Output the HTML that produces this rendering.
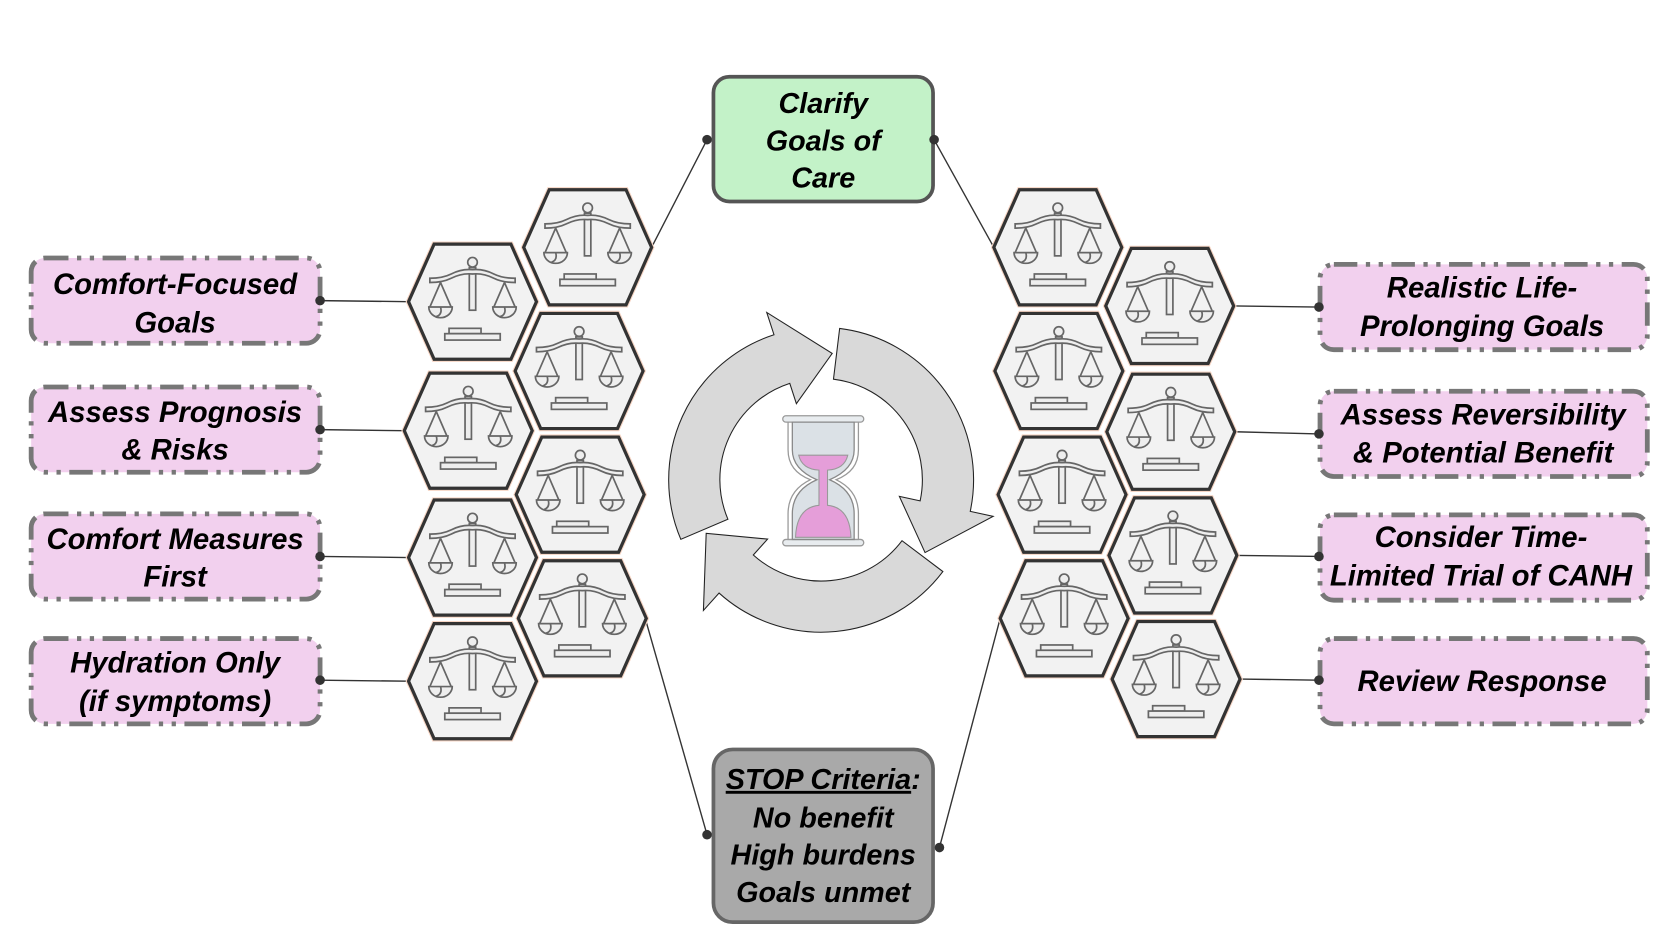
<!DOCTYPE html>
<html><head><meta charset="utf-8">
<style>
html,body{margin:0;padding:0;background:#fff;width:1671px;height:936px;overflow:hidden}
svg{display:block}
text{font-family:"Liberation Sans",sans-serif;font-weight:bold;font-style:italic;fill:#000}
</style></head><body>
<svg width="1671" height="936" viewBox="0 0 1567 878" xmlns="http://www.w3.org/2000/svg">
<defs>
<g id="scale" fill="none" stroke="#666" stroke-width="1.6">
  <circle cx="0" cy="-37" r="4.5" fill="#eee"/>
  <rect x="-3" y="-32" width="6" height="40" fill="#eee"/>
  <path d="M-40,-22 Q-28,-22 -20,-26 Q-10,-31 0,-30 Q10,-31 20,-26 Q28,-22 40,-22 L40,-18 Q28,-18 20,-22 Q10,-27 0,-26 Q-10,-27 -20,-22 Q-28,-18 -40,-18 Z" fill="#eee"/>
  <path d="M-30,-18 L-40,5 M-30,-18 L-20,5 M30,-18 L20,5 M30,-18 L40,5"/>
  <path d="M-41,5 L-19,5 A11,10 0 0 1 -41,5 Z M19,5 L41,5 A11,10 0 0 1 19,5 Z" fill="#eee"/>
  <path d="M-30,5 Q-28,12 -34,14 M30,5 Q32,12 26,14"/>
  <rect x="-22" y="25" width="30" height="5" fill="#eee"/>
  <rect x="-26" y="30" width="52" height="6" fill="#eee"/>
</g>
<g id="hex">
  <polygon points="-60,0 -36,-54 36,-54 60,0 36,54 -36,54" fill="#f2f2f2" stroke="#f6d5c4" stroke-width="5"/>
  <polygon points="-60,0 -36,-54 36,-54 60,0 36,54 -36,54" fill="#f2f2f2" stroke="#333" stroke-width="3"/>
  <use href="#scale"/>
</g>
</defs>

<g stroke="#333" stroke-width="1.3" fill="none">
  <line x1="300" y1="282" x2="383" y2="283"/>
  <line x1="300" y1="403" x2="379" y2="404"/>
  <line x1="300" y1="522" x2="383" y2="523"/>
  <line x1="300" y1="638" x2="383" y2="639"/>
  <line x1="663" y1="131" x2="611" y2="232"/>
  <line x1="663" y1="783" x2="605" y2="580"/>
  <line x1="876" y1="131" x2="932" y2="232"/>
  <line x1="881" y1="795" x2="938" y2="580"/>
  <line x1="1237" y1="288" x2="1157" y2="287"/>
  <line x1="1237" y1="407" x2="1158" y2="405"/>
  <line x1="1237" y1="522" x2="1160" y2="521"/>
  <line x1="1237" y1="638" x2="1163" y2="637"/>
</g>

<use href="#hex" x="443" y="283"/>
<use href="#hex" x="551" y="232"/>
<use href="#hex" x="439" y="404"/>
<use href="#hex" x="543" y="348"/>
<use href="#hex" x="443" y="523"/>
<use href="#hex" x="544" y="464"/>
<use href="#hex" x="443" y="639"/>
<use href="#hex" x="546" y="580"/>
<use href="#hex" x="992" y="232"/>
<use href="#hex" x="1097" y="287"/>
<use href="#hex" x="993" y="348"/>
<use href="#hex" x="1098" y="405"/>
<use href="#hex" x="996" y="464"/>
<use href="#hex" x="1100" y="521"/>
<use href="#hex" x="998" y="580"/>
<use href="#hex" x="1103" y="637"/>

<g fill="#d9d9d9" stroke="#222" stroke-width="1">
  <path d="M638.4,505.9 A143,143 0 0 1 725.8,314.0 L719.0,293.1 L780.4,331.5 L746.8,378.7 L740.6,359.6 A95,95 0 0 0 682.6,487.1 Z"/>
  <path d="M787.4,308.1 A143,143 0 0 1 909.9,479.7 L931.4,484.3 L867.5,518.3 L843.4,465.6 L862.9,469.8 A95,95 0 0 0 781.6,355.7 Z"/>
  <path d="M884.2,536.1 A143,143 0 0 1 674.3,556.3 L659.6,572.6 L662.2,500.3 L719.8,505.7 L706.4,520.6 A95,95 0 0 0 845.9,507.2 Z"/>
</g>

<g transform="translate(772,452)">
  <rect x="-38" y="-62" width="76" height="6" rx="3" fill="#e8ecef" stroke="#999" stroke-width="1.2"/>
  <rect x="-38" y="54" width="76" height="6" rx="3" fill="#e8ecef" stroke="#999" stroke-width="1.2"/>
  <path d="M-33,-56 L33,-56 L33,-30 Q33,-10 12,-2 Q33,8 33,30 L33,54 L-33,54 L-33,30 Q-33,8 -12,-2 Q-33,-10 -33,-30 Z" fill="#fff" stroke="#999" stroke-width="1.2"/>
  <path d="M-29,-56 L29,-56 L29,-30 Q29,-12 6,-2 Q29,8 29,30 L29,54 L-29,54 L-29,30 Q-29,8 -6,-2 Q-29,-12 -29,-30 Z" fill="#dbe1e6" stroke="#888" stroke-width="1.2"/>
  <path d="M-23,-25 L23,-25 Q20,-12 4,-11 L4,22 Q25,24 26,52 L-26,52 Q-25,24 -4,22 L-4,-11 Q-20,-12 -23,-25 Z" fill="#e59ed9" stroke="#999" stroke-width="1"/>
</g>

<rect x="669" y="72" width="206" height="117" rx="15" fill="#c3f2c8" stroke="#555" stroke-width="3.5"/>
<text font-size="27" text-anchor="middle"><tspan x="772" y="106">Clarify</tspan><tspan x="772" y="141">Goals of</tspan><tspan x="772" y="176">Care</tspan></text>

<rect x="669" y="703" width="206" height="162" rx="18" fill="#a9a9a9" stroke="#666" stroke-width="3.5"/>
<text font-size="27" text-anchor="middle"><tspan x="772" y="740" text-decoration="underline">STOP Criteria</tspan><tspan>:</tspan><tspan x="772" y="776">No benefit</tspan><tspan x="772" y="811">High burdens</tspan><tspan x="772" y="846">Goals unmet</tspan></text>

<g fill="#f2d0ee" stroke="#777" stroke-width="4.5" stroke-dasharray="22,8,4,8,4,8">
  <rect x="29" y="242" width="271" height="80" rx="13"/>
  <rect x="29" y="363" width="271" height="80" rx="13"/>
  <rect x="29" y="482" width="271" height="80" rx="13"/>
  <rect x="29" y="599" width="271" height="80" rx="13"/>
  <rect x="1238" y="248" width="307" height="80" rx="13"/>
  <rect x="1238" y="367" width="307" height="80" rx="13"/>
  <rect x="1238" y="483" width="307" height="80" rx="13"/>
  <rect x="1238" y="599" width="307" height="80" rx="13"/>
</g>
<g fill="#333">
  <circle cx="300" cy="282" r="4.5"/><circle cx="300" cy="403" r="4.5"/><circle cx="300" cy="522" r="4.5"/><circle cx="300" cy="638" r="4.5"/>
  <circle cx="1237" cy="288" r="4.5"/><circle cx="1237" cy="407" r="4.5"/><circle cx="1237" cy="522" r="4.5"/><circle cx="1237" cy="638" r="4.5"/>
  <circle cx="663" cy="131" r="4.5"/><circle cx="876" cy="131" r="4.5"/><circle cx="663" cy="783" r="4.5"/><circle cx="881" cy="795" r="4.5"/>
</g>
<g font-size="27.5" text-anchor="middle">
  <text><tspan x="164" y="276">Comfort-Focused</tspan><tspan x="164" y="312">Goals</tspan></text>
  <text><tspan x="164" y="396">Assess Prognosis</tspan><tspan x="164" y="431">&amp; Risks</tspan></text>
  <text><tspan x="164" y="515">Comfort Measures</tspan><tspan x="164" y="550">First</tspan></text>
  <text><tspan x="164" y="631">Hydration Only</tspan><tspan x="164" y="667">(if symptoms)</tspan></text>
  <text><tspan x="1390" y="279">Realistic Life-</tspan><tspan x="1390" y="315">Prolonging Goals</tspan></text>
  <text><tspan x="1391" y="398">Assess Reversibility</tspan><tspan x="1391" y="434">&amp; Potential Benefit</tspan></text>
  <text><tspan x="1389" y="513">Consider Time-</tspan><tspan x="1389" y="549">Limited Trial of CANH</tspan></text>
  <text><tspan x="1390" y="648">Review Response</tspan></text>
</g>
</svg>
</body></html>
